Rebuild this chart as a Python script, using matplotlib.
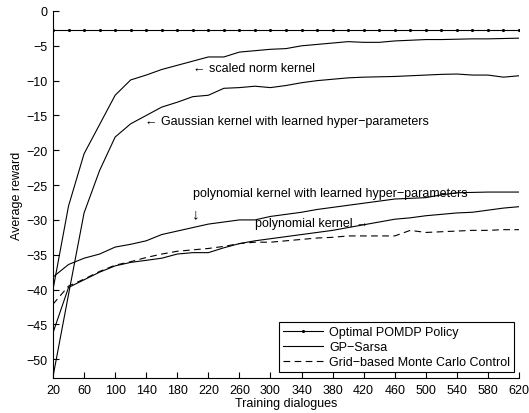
import matplotlib
matplotlib.use("Agg")
import matplotlib.pyplot as plt
import numpy as np

plt.rcParams['font.family'] = ['Liberation Sans', 'DejaVu Sans']

x = list(range(20, 621, 20))

optimal = [-2.75] * len(x)

scaled_norm = [-40.0, -28.0, -20.5, -16.3, -12.1, -9.9, -9.2, -8.4, -7.8, -7.2,
               -6.6, -6.6, -5.9, -5.7, -5.5, -5.4, -5.0, -4.8, -4.6, -4.4,
               -4.5, -4.5, -4.3, -4.2, -4.1, -4.1, -4.05, -4.0, -4.0, -3.95, -3.9]

gaussian = [-52.5, -40.7, -29.0, -22.9, -18.1, -16.2, -15.0, -13.8, -13.1, -12.3,
            -12.1, -11.1, -11.0, -10.8, -11.0, -10.7, -10.3, -10.0, -9.8, -9.6,
            -9.5, -9.45, -9.4, -9.3, -9.2, -9.1, -9.05, -9.2, -9.2, -9.5, -9.3]

poly_learned = [-38.2, -36.4, -35.5, -34.9, -33.9, -33.5, -33.0, -32.1, -31.6, -31.1,
                -30.6, -30.3, -30.0, -30.0, -29.5, -29.2, -28.9, -28.5, -28.2, -27.9,
                -27.6, -27.3, -27.0, -26.9, -26.8, -26.4, -26.1, -26.05, -26.0, -26.0, -26.0]

poly = [-46.2, -39.7, -38.6, -37.5, -36.6, -36.1, -35.8, -35.5, -34.9, -34.7,
        -34.7, -34.0, -33.4, -33.0, -32.7, -32.4, -32.1, -31.8, -31.5, -31.1,
        -30.7, -30.3, -29.9, -29.7, -29.4, -29.2, -29.0, -28.9, -28.6, -28.3, -28.1]

monte_carlo = [-42.1, -39.5, -38.5, -37.4, -36.5, -36.0, -35.4, -34.9, -34.5, -34.3,
               -34.1, -33.8, -33.4, -33.2, -33.2, -33.0, -32.8, -32.6, -32.5, -32.3,
               -32.3, -32.3, -32.3, -31.5, -31.8, -31.7, -31.6, -31.5, -31.5, -31.4, -31.4]

xticks = list(range(20, 621, 40))
yticks = [0, -5, -10, -15, -20, -25, -30, -35, -40, -45, -50]

fig = plt.figure(figsize=(5.29, 4.14), dpi=100)
ax = fig.add_axes([53/529, 1-379/414, (519-53)/529, (379-12)/414])

lw = 0.8
ax.plot(x, optimal, color='black', lw=lw, marker='.', markersize=2.5,
        label='Optimal POMDP Policy')
ax.plot(x, scaled_norm, color='black', lw=lw, label='GP\u2212Sarsa')
ax.plot(x, gaussian, color='black', lw=lw)
ax.plot(x, poly_learned, color='black', lw=lw)
ax.plot(x, poly, color='black', lw=lw)
ax.plot(x, monte_carlo, color='black', lw=lw, ls=(0, (6, 4)),
        label='Grid\u2212based Monte Carlo Control')

ax.set_xlim(20, 620)
ax.set_ylim(-52.7, 0)
ax.set_xticks(xticks)
ax.set_yticks(yticks)
ax.tick_params(direction='in', length=4, width=0.8, labelsize=9, pad=4)
for s in ['top', 'right']:
    ax.spines[s].set_visible(False)
for s in ['left', 'bottom']:
    ax.spines[s].set_linewidth(0.8)

ax.set_xlabel('Training dialogues', fontsize=9, labelpad=1)
ax.set_ylabel('Average reward', fontsize=9, labelpad=2)

fs = 9
def px(xp, yp):
    return (xp / 529, 1 - yp / 414)

fig.text(*px(193, 69), '\u2190 scaled norm kernel', fontsize=fs, va='center', ha='left')
fig.text(*px(145, 122), '\u2190 Gaussian kernel with learned hyper\u2212parameters',
         fontsize=fs, va='center', ha='left')
fig.text(*px(193, 194), 'polynomial kernel with learned hyper\u2212parameters',
         fontsize=fs, va='center', ha='left')
fig.text(*px(196, 214), '\u2193', fontsize=11, va='center', ha='center')
fig.text(*px(255, 224), 'polynomial kernel \u2192', fontsize=fs, va='center', ha='left')

leg = ax.legend(loc='lower right', bbox_to_anchor=(0.989, 0.016), borderaxespad=0,
                fontsize=fs, frameon=True, fancybox=False, framealpha=1,
                edgecolor='black', handlelength=3.2, handletextpad=0.5,
                labelspacing=0.25, borderpad=0.3)
leg.get_frame().set_linewidth(0.8)

fig.savefig('out.png', dpi=100)
